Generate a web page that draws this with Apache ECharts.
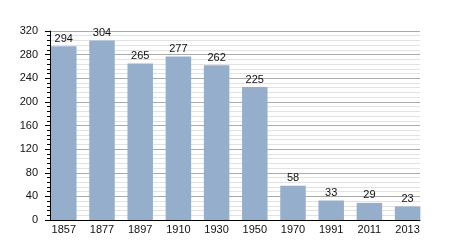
<!DOCTYPE html>
<html><head><meta charset="utf-8">
<script src="https://cdn.jsdelivr.net/npm/echarts@6/dist/echarts.min.js"></script>
<style>html,body{margin:0;padding:0;background:#fff}#c{width:450px;height:250px}</style>
</head><body><div id="c"></div>
<script>
const years = ['1857','1877','1897','1910','1930','1950','1970','1991','2011','2013'];
const population = [294,304,265,277,262,225,58,33,29,23];
const yTicks = [0,40,80,120,160,200,240,280,320];

const chart = echarts.init(document.getElementById('c'), null, {renderer:'canvas'});
const font = 'Liberation Sans, Arial, sans-serif';
chart.setOption({
  animation:false,
  grid:[
    {left:50, right:30, top:31, bottom:30},
    {left:44.7, width:382, top:31, bottom:30}
  ],
  xAxis:[
    {gridIndex:0, type:'value', min:0, max:1, axisLine:{show:true, lineStyle:{color:'#000', width:1}},
     axisTick:{show:false}, axisLabel:{show:false}, splitLine:{show:false}},
    {gridIndex:1, type:'category', data:years, axisLine:{show:false}, axisTick:{show:false},
     axisLabel:{fontFamily:font, fontSize:11, color:'#111', margin:4}}
  ],
  yAxis:[
    {gridIndex:0, type:'value', min:yTicks[0], max:yTicks[yTicks.length-1], interval:40,
     axisLine:{show:true, lineStyle:{color:'#000', width:1}},
     axisTick:{show:true, length:5, lineStyle:{color:'#000'}},
     minorTick:{show:true, splitNumber:5, length:3, lineStyle:{color:'#000'}},
     axisLabel:{fontFamily:font, fontSize:11, color:'#111', margin:12},
     splitLine:{show:true, lineStyle:{color:'#aaa', width:1}},
     minorSplitLine:{show:true, lineStyle:{color:'#e2e2e2', width:1}}},
    {gridIndex:1, type:'value', min:0, max:320, show:false}
  ],
  series:[{
    type:'bar', xAxisIndex:1, yAxisIndex:1, data:population, barWidth:25.5,
    itemStyle:{color:'#94aecb'},
    label:{show:true, position:'top', distance:2, fontFamily:font, fontSize:11, color:'#111'}
  }]
});
</script></body></html>
